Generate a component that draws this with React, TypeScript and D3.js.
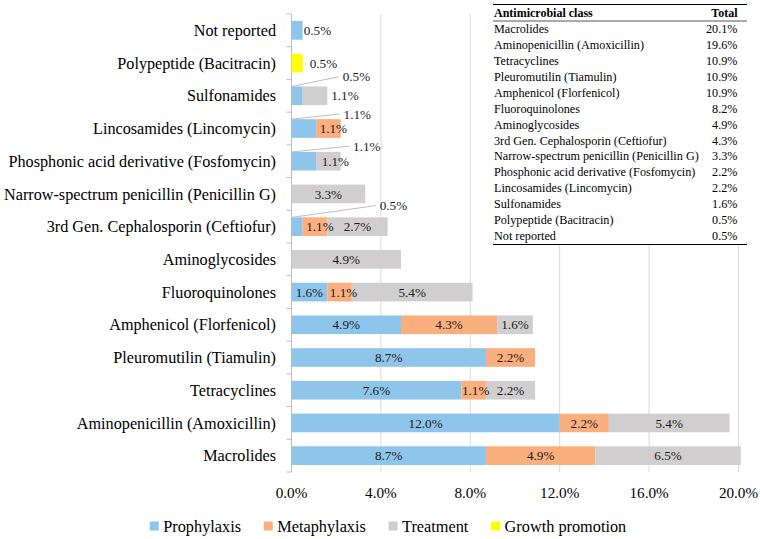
import React, { useEffect, useRef } from "react";
import * as d3 from "d3";

const categories = [
  "Not reported",
  "Polypeptide (Bacitracin)",
  "Sulfonamides",
  "Lincosamides (Lincomycin)",
  "Phosphonic acid derivative (Fosfomycin)",
  "Narrow-spectrum penicillin (Penicillin G)",
  "3rd Gen. Cephalosporin (Ceftiofur)",
  "Aminoglycosides",
  "Fluoroquinolones",
  "Amphenicol (Florfenicol)",
  "Pleuromutilin (Tiamulin)",
  "Tetracyclines",
  "Aminopenicillin (Amoxicillin)",
  "Macrolides",
];
const prophylaxis = [0.5, 0, 0.5, 1.1, 1.1, 0, 0.5, 0, 1.6, 4.9, 8.7, 7.6, 12.0, 8.7];
const metaphylaxis = [0, 0, 0, 1.1, 0, 0, 1.1, 0, 1.1, 4.3, 2.2, 1.1, 2.2, 4.9];
const treatment = [0, 0, 1.1, 0, 1.1, 3.3, 2.7, 4.9, 5.4, 1.6, 0, 2.2, 5.4, 6.5];
const growthPromotion = [0, 0.5, 0, 0, 0, 0, 0, 0, 0, 0, 0, 0, 0, 0];

const seriesNames = ["Prophylaxis", "Metaphylaxis", "Treatment", "Growth promotion"];
const xTicks = [0, 4, 8, 12, 16, 20];

const tableClasses = [
  "Macrolides",
  "Aminopenicillin (Amoxicillin)",
  "Tetracyclines",
  "Pleuromutilin (Tiamulin)",
  "Amphenicol (Florfenicol)",
  "Fluoroquinolones",
  "Aminoglycosides",
  "3rd Gen. Cephalosporin (Ceftiofur)",
  "Narrow-spectrum penicillin (Penicillin G)",
  "Phosphonic acid derivative (Fosfomycin)",
  "Lincosamides (Lincomycin)",
  "Sulfonamides",
  "Polypeptide (Bacitracin)",
  "Not reported",
];
const tableTotals = ["20.1%", "19.6%", "10.9%", "10.9%", "10.9%", "8.2%", "4.9%", "4.3%", "3.3%", "2.2%", "2.2%", "1.6%", "0.5%", "0.5%"];

const colors = ["#8EC5EA", "#FBAF7F", "#D0CECE", "#FFFF00"];
const FONT = "'Liberation Serif', 'Times New Roman', serif";

// label placement tweaks (layout only)
const nudges: Record<string, { dx?: number; dy?: number; mode?: string }> = {
  "Not reported|0": { mode: "outside", dx: 1 },
  "Polypeptide (Bacitracin)|3": { mode: "outside", dx: 7 },
  "Sulfonamides|0": { mode: "callout", dx: 40, dy: -19 },
  "Sulfonamides|2": { dx: 30 },
  "Lincosamides (Lincomycin)|0": { mode: "callout", dx: 27.5, dy: -14.5 },
  "Lincosamides (Lincomycin)|1": { dx: 5 },
  "Phosphonic acid derivative (Fosfomycin)|0": { mode: "callout", dx: 37, dy: -15 },
  "Phosphonic acid derivative (Fosfomycin)|2": { dx: 7 },
  "3rd Gen. Cephalosporin (Ceftiofur)|0": { mode: "callout", dx: 77, dy: -21 },
  "3rd Gen. Cephalosporin (Ceftiofur)|1": { dx: 5 },
  "Fluoroquinolones|1": { dx: 4 },
  "Tetracyclines|1": { dx: 2 },
};

export default function App() {
  const ref = useRef<SVGSVGElement>(null);

  useEffect(() => {
    const svg = d3.select(ref.current);
    svg.selectAll("*").remove();

    const x = d3.scaleLinear().domain([0, 20]).range([291.5, 738.5]);
    const y = d3
      .scaleBand()
      .domain(categories)
      .range([14, 472])
      .paddingInner(0.43)
      .paddingOuter(0.215);
    const step = y.step();

    const rows = categories.map((c, i) => ({
      cat: c,
      s0: prophylaxis[i],
      s1: metaphylaxis[i],
      s2: treatment[i],
      s3: growthPromotion[i],
    }));
    const stack = d3.stack<any>().keys(["s0", "s1", "s2", "s3"]);
    const stacked = stack(rows);

    // gridlines
    svg
      .append("g")
      .selectAll("line")
      .data(xTicks.slice(1))
      .join("line")
      .attr("x1", (d) => x(d))
      .attr("x2", (d) => x(d))
      .attr("y1", 14)
      .attr("y2", 472)
      .attr("stroke", "#d9d9d9")
      .attr("stroke-width", 1);

    // left axis
    const ax = svg.append("g");
    ax.append("line")
      .attr("x1", x(0))
      .attr("x2", x(0))
      .attr("y1", 14)
      .attr("y2", 472)
      .attr("stroke", "#bfbfbf");
    ax.selectAll("line.tk")
      .data(d3.range(categories.length + 1))
      .join("line")
      .attr("class", "tk")
      .attr("x1", x(0) - 5)
      .attr("x2", x(0))
      .attr("y1", (i) => 14 + i * step)
      .attr("y2", (i) => 14 + i * step)
      .attr("stroke", "#bfbfbf");

    // category labels
    svg
      .append("g")
      .selectAll("text")
      .data(categories)
      .join("text")
      .attr("x", 276)
      .attr("y", (d) => (y(d) as number) + y.bandwidth() / 2)
      .attr("dy", "0.35em")
      .attr("text-anchor", "end")
      .attr("font-family", FONT)
      .attr("font-size", 16.2)
      .attr("fill", "#000")
      .text((d) => d);

    // x tick labels
    svg
      .append("g")
      .selectAll("text")
      .data(xTicks)
      .join("text")
      .attr("x", (d) => x(d))
      .attr("y", 493)
      .attr("dy", "0.35em")
      .attr("text-anchor", "middle")
      .attr("font-family", FONT)
      .attr("font-size", 15.2)
      .attr("fill", "#000")
      .text((d) => d.toFixed(1) + "%");

    // bars
    const barG = svg.append("g");
    stacked.forEach((layer, si) => {
      barG
        .append("g")
        .selectAll("rect")
        .data(layer.filter((d) => d[1] - d[0] > 0))
        .join("rect")
        .attr("x", (d) => x(d[0]))
        .attr("width", (d) => x(d[1]) - x(d[0]))
        .attr("y", (d) => y(d.data.cat) as number)
        .attr("height", y.bandwidth())
        .attr("fill", colors[si]);
    });

    // data labels
    const lblG = svg.append("g");
    stacked.forEach((layer, si) => {
      layer.forEach((d) => {
        const v = d[1] - d[0];
        if (v <= 0) return;
        const cat = d.data.cat;
        const key = cat + "|" + si;
        const n = nudges[key] || {};
        const cy = (y(cat) as number) + y.bandwidth() / 2;
        const x0 = x(d[0]);
        const x1 = x(d[1]);
        let tx = (x0 + x1) / 2 + (n.dx || 0);
        let ty = cy + (n.dy || 0);
        let anchor = "middle";
        if (n.mode === "outside") {
          tx = x1 + (n.dx || 0);
          anchor = "start";
        } else if (n.mode === "callout") {
          tx = x1 + (n.dx || 0);
          anchor = "start";
          lblG
            .append("line")
            .attr("x1", x0 + 0.5)
            .attr("y1", cy - y.bandwidth() / 2)
            .attr("x2", tx - 4)
            .attr("y2", ty)
            .attr("stroke", "#bfbfbf")
            .attr("stroke-width", 1);
        }
        lblG
          .append("text")
          .attr("x", tx)
          .attr("y", ty)
          .attr("dy", "0.35em")
          .attr("text-anchor", anchor)
          .attr("font-family", FONT)
          .attr("font-size", 13.2)
          .attr("fill", "#1a1a1a")
          .text(v.toFixed(1) + "%");
      });
    });

    // table
    const tb = svg.append("g");
    const tL = 493,
      tR = 747;
    tb.append("rect").attr("x", tL).attr("y", 3).attr("width", tR - tL).attr("height", 242).attr("fill", "#fff");
    tb.append("line").attr("x1", tL).attr("x2", tR).attr("y1", 4.5).attr("y2", 4.5).attr("stroke", "#000").attr("stroke-width", 1);
    tb.append("line").attr("x1", tL).attr("x2", tR).attr("y1", 21).attr("y2", 21).attr("stroke", "#555").attr("stroke-width", 1);
    tb.append("line").attr("x1", tL).attr("x2", tR).attr("y1", 244.5).attr("y2", 244.5).attr("stroke", "#000").attr("stroke-width", 1);
    tb.append("text")
      .attr("x", 494)
      .attr("y", 13)
      .attr("dy", "0.35em")
      .attr("font-family", FONT)
      .attr("font-weight", "bold")
      .attr("font-size", 12)
      .text("Antimicrobial class");
    tb.append("text")
      .attr("x", 737.5)
      .attr("y", 13)
      .attr("dy", "0.35em")
      .attr("text-anchor", "end")
      .attr("font-family", FONT)
      .attr("font-weight", "bold")
      .attr("font-size", 12)
      .text("Total");
    const rowY = (i: number) => 29.2 + i * 15.87;
    tb.selectAll("text.cls")
      .data(tableClasses)
      .join("text")
      .attr("class", "cls")
      .attr("x", 494)
      .attr("y", (d, i) => rowY(i))
      .attr("dy", "0.35em")
      .attr("font-family", FONT)
      .attr("font-size", 12.2)
      .text((d) => d);
    tb.selectAll("text.tot")
      .data(tableTotals)
      .join("text")
      .attr("class", "tot")
      .attr("x", 737.5)
      .attr("y", (d, i) => rowY(i))
      .attr("dy", "0.35em")
      .attr("text-anchor", "end")
      .attr("font-family", FONT)
      .attr("font-size", 12.2)
      .text((d) => d);

    // legend
    const lg = svg.append("g");
    const items = seriesNames.map((name, i) => {
      const g = lg.append("g");
      g.append("rect").attr("x", 0).attr("y", -4.5).attr("width", 9).attr("height", 9).attr("fill", colors[i]);
      const t = g
        .append("text")
        .attr("x", 13.5)
        .attr("y", 0)
        .attr("dy", "0.35em")
        .attr("font-family", FONT)
        .attr("font-size", 16.3)
        .attr("fill", "#000")
        .text(name);
      const w = 13.5 + (t.node() as SVGTextElement).getComputedTextLength();
      return { g, w };
    });
    const gap = 22.7;
    const total = d3.sum(items, (d) => d.w) + gap * (items.length - 1);
    let cx = 388 - total / 2;
    items.forEach((it) => {
      it.g.attr("transform", `translate(${cx},526)`);
      cx += it.w + gap;
    });
  }, []);

  return (
    <svg
      ref={ref}
      width={760}
      height={539}
      style={{ position: "absolute", left: 0, top: 0, background: "#fff" }}
    />
  );
}
